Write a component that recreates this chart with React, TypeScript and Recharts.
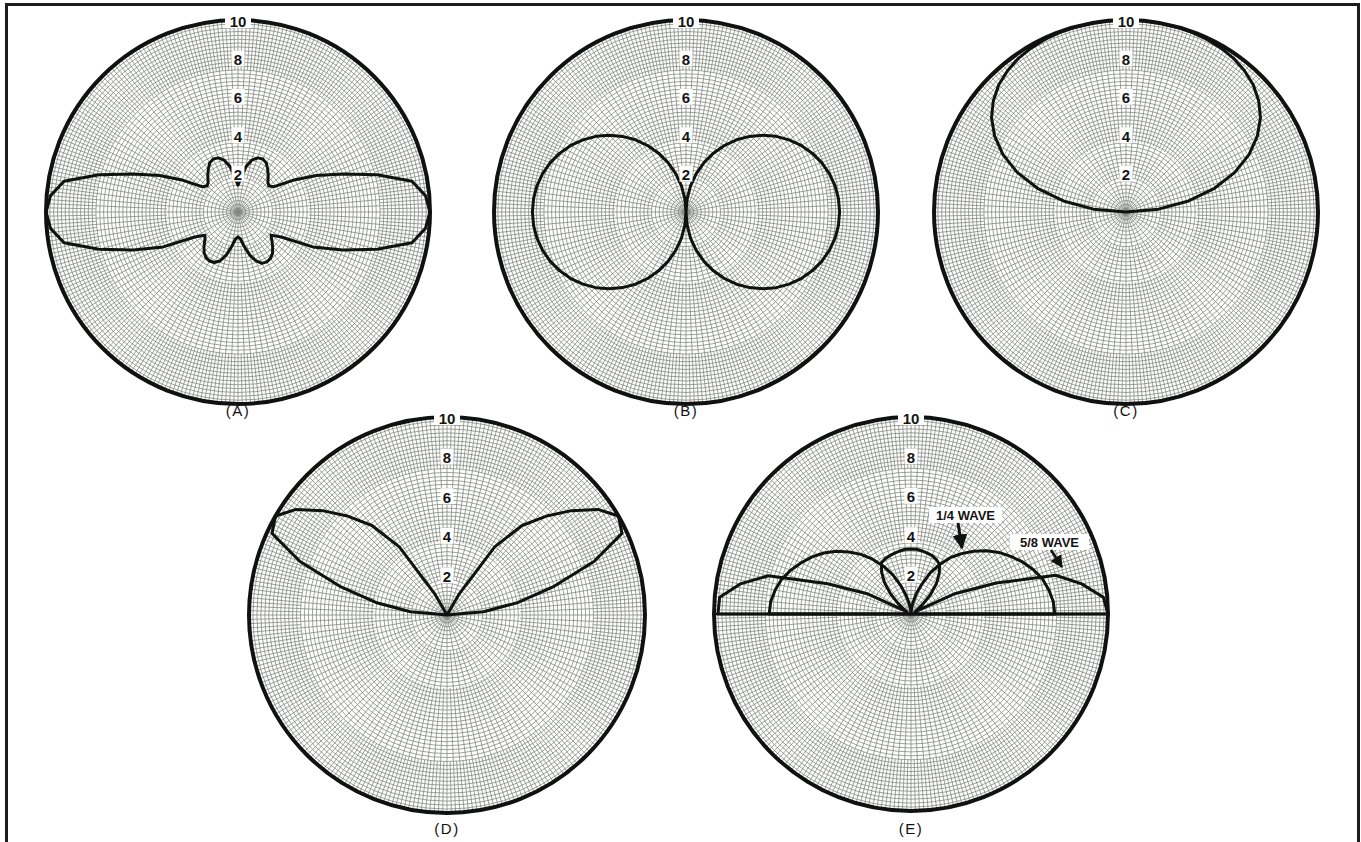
import React from 'react';
import { RadarChart, Radar, PolarGrid, PolarAngleAxis, PolarRadiusAxis } from 'recharts';

// ---------- data ----------
const ANGLES = [
  0, 5, 10, 15, 20, 25, 30, 35, 40, 45, 50, 55, 60, 65, 70, 75, 80, 85,
  90, 95, 100, 105, 110, 115, 120, 125, 130, 135, 140, 145, 150, 155, 160, 165, 170, 175,
  180, 185, 190, 195, 200, 205, 210, 215, 220, 225, 230, 235, 240, 245, 250, 255, 260, 265,
  270, 275, 280, 285, 290, 295, 300, 305, 310, 315, 320, 325, 330, 335, 340, 345, 350, 355,
];

// (A) broadside array: two main lobes + four minor lobes
const PATTERN_A = [
  1.4, 1.8, 2.4, 2.8, 3.0, 3.05, 2.95, 2.7, 2.45, 2.2, 2.1, 2.3, 3.3, 4.5, 5.8, 7.5, 9.2, 9.8,
  10.0, 9.8, 9.2, 7.5, 5.8, 4.3, 2.6, 2.1, 2.3, 2.55, 2.8, 2.95, 3.0, 2.95, 2.7, 2.3, 1.8, 1.4,
  1.3, 1.4, 1.8, 2.3, 2.7, 2.9, 2.95, 2.9, 2.75, 2.5, 2.25, 2.1, 2.6, 4.3, 5.8, 7.5, 9.2, 9.8,
  10.0, 9.8, 9.2, 7.5, 5.8, 4.5, 3.3, 2.3, 2.1, 2.2, 2.45, 2.7, 2.95, 3.05, 3.0, 2.8, 2.4, 1.8,
];

// (B) figure-eight dipole
const PATTERN_B = [
  0, 0.7, 1.39, 2.07, 2.74, 3.38, 4.0, 4.59, 5.14, 5.66, 6.13, 6.55, 6.93, 7.25, 7.52, 7.73, 7.88, 7.97,
  8.0, 7.97, 7.88, 7.73, 7.52, 7.25, 6.93, 6.55, 6.13, 5.66, 5.14, 4.59, 4.0, 3.38, 2.74, 2.07, 1.39, 0.7,
  0, 0.7, 1.39, 2.07, 2.74, 3.38, 4.0, 4.59, 5.14, 5.66, 6.13, 6.55, 6.93, 7.25, 7.52, 7.73, 7.88, 7.97,
  8.0, 7.97, 7.88, 7.73, 7.52, 7.25, 6.93, 6.55, 6.13, 5.66, 5.14, 4.59, 4.0, 3.38, 2.74, 2.07, 1.39, 0.7,
];

// (C) unidirectional
const PATTERN_C = [
  10.0, 10.0, 9.99, 9.99, 9.97, 9.93, 9.87, 9.77, 9.6, 9.37, 9.02, 8.55, 7.9, 7.07, 6.03, 4.77, 3.31, 1.7,
  0, 0, 0, 0, 0, 0, 0, 0, 0, 0, 0, 0, 0, 0, 0, 0, 0, 0,
  0, 0, 0, 0, 0, 0, 0, 0, 0, 0, 0, 0, 0, 0, 0, 0, 0, 0,
  0, 1.7, 3.31, 4.77, 6.03, 7.07, 7.9, 8.55, 9.02, 9.37, 9.6, 9.77, 9.87, 9.93, 9.97, 9.99, 9.99, 10.0,
];

// (D) elevated twin lobes
const PATTERN_D = [
  0, 0, 0, 0, 0, 0, 1.2, 4.2, 5.9, 7.05, 8.2, 9.3, 10.0, 9.75, 7.9, 5.6, 3.65, 1.85,
  0, 0, 0, 0, 0, 0, 0, 0, 0, 0, 0, 0, 0, 0, 0, 0, 0, 0,
  0, 0, 0, 0, 0, 0, 0, 0, 0, 0, 0, 0, 0, 0, 0, 0, 0, 0,
  0, 1.85, 3.65, 5.6, 7.9, 9.75, 10.0, 9.3, 8.2, 7.05, 5.9, 4.2, 1.2, 0, 0, 0, 0, 0,
];

// (E) vertical radiators over ground
const PATTERN_E_QUARTER = [
  0, 0.3, 0.6, 1.1, 1.6, 2.3, 2.9, 3.5, 4.0, 4.5, 5.0, 5.45, 5.85, 6.25, 6.6, 6.9, 7.1, 7.25,
  7.3, 0, 0, 0, 0, 0, 0, 0, 0, 0, 0, 0, 0, 0, 0, 0, 0, 0,
  0, 0, 0, 0, 0, 0, 0, 0, 0, 0, 0, 0, 0, 0, 0, 0, 0, 0,
  7.2, 7.15, 7.0, 6.8, 6.5, 6.15, 5.8, 5.4, 4.95, 4.45, 3.95, 3.4, 2.8, 2.2, 1.55, 1.0, 0.55, 0.25,
];
const PATTERN_E_FIVE_EIGHTHS = [
  3.3, 3.3, 3.25, 3.2, 3.15, 3.05, 2.9, 2.5, 2.0, 1.4, 0.8, 0.4, 0.25, 2.4, 4.6, 7.6, 8.8, 9.8,
  10.0, 0, 0, 0, 0, 0, 0, 0, 0, 0, 0, 0, 0, 0, 0, 0, 0, 0,
  0, 0, 0, 0, 0, 0, 0, 0, 0, 0, 0, 0, 0, 0, 0, 0, 0, 0,
  9.8, 9.75, 8.8, 7.5, 4.5, 2.4, 0.25, 0.5, 0.9, 1.5, 2.1, 2.6, 3.0, 3.1, 3.15, 3.2, 3.25, 3.3,
];

const GROUND_ANGLES = [90, 270];
const RADIUS_LABELS = [2, 4, 6, 8, 10];
const OUTER_RING = [10];
const PLOT_LABELS = ['(A)', '(B)', '(C)', '(D)', '(E)'];
const WAVE_LABELS = ['1/4 WAVE', '5/8 WAVE'];

// grid of the polar paper: circles every 0.2, radial density doubling outward
const GRID_RADII = Array.from({ length: 49 }, (_, i) => Math.round((i + 1) * 2) / 10);
const GRID_ZONES = [
  { from: 0, to: 1.8, step: 10 },
  { from: 1.8, to: 3.7, step: 5 },
  { from: 3.7, to: 7.4, step: 2.5 },
  { from: 7.4, to: 10, step: 1.25 },
];
const zoneAngles = (step: number) => Array.from({ length: Math.round(360 / step) }, (_, i) => i * step);

const rows = (series: Record<string, number[]>) =>
  ANGLES.map((a, i) => {
    const o: Record<string, number> = { angle: a };
    Object.keys(series).forEach((k) => (o[k] = series[k][i]));
    return o;
  });

const DATA_A = rows({ r: PATTERN_A });
const DATA_B = rows({ r: PATTERN_B });
const DATA_C = rows({ r: PATTERN_C });
const DATA_D = rows({ r: PATTERN_D });
const DATA_E = rows({ q: PATTERN_E_QUARTER, f: PATTERN_E_FIVE_EIGHTHS });

// ---------- layout ----------
const PAD = 22;
const PLOTS = [
  { cx: 238, cy: 212, R: 192, data: DATA_A, keys: ['r'], label: PLOT_LABELS[0], ground: false },
  { cx: 686, cy: 212, R: 192, data: DATA_B, keys: ['r'], label: PLOT_LABELS[1], ground: false },
  { cx: 1126, cy: 212, R: 192, data: DATA_C, keys: ['r'], label: PLOT_LABELS[2], ground: false },
  { cx: 447, cy: 615, R: 198, data: DATA_D, keys: ['r'], label: PLOT_LABELS[3], ground: false },
  { cx: 911, cy: 614, R: 197, data: DATA_E, keys: ['q', 'f'], label: PLOT_LABELS[4], ground: true },
];

const GRID_COLOR = '#7f847b';
const FONT = '"Liberation Sans", Arial, sans-serif';

const AngleAxis = ({ ticks }: { ticks?: number[] }) => (
  <PolarAngleAxis
    dataKey="angle"
    type="number"
    domain={[0, 360]}
    allowDataOverflow
    ticks={ticks ?? [0, 90, 180, 270]}
    tick={false}
    axisLine={false}
    tickLine={false}
  />
);

const RadiusAxis = ({ ticks, tick }: { ticks?: number[]; tick?: any }) => (
  <PolarRadiusAxis
    domain={[0, 10]}
    type="number"
    allowDataOverflow
    ticks={(ticks ?? [0, 2, 4, 6, 8, 10]) as any}
    tick={tick ?? false}
    axisLine={false}
    tickLine={false}
    angle={90}
  />
);

const RadiusLabel = (props: any) => {
  const { x, y, payload } = props;
  const txt = String(payload.value);
  const w = txt.length > 1 ? 26 : 13;
  return (
    <g>
      <rect x={x - w / 2} y={y - 8} width={w} height={16} fill="#ffffff" />
      <text
        x={x}
        y={y + 1}
        textAnchor="middle"
        dominantBaseline="central"
        fontFamily={FONT}
        fontWeight="bold"
        fontSize={15}
        fill="#141414"
      >
        {txt}
      </text>
    </g>
  );
};

function Layer(props: {
  size: number;
  inner?: number;
  outer: number;
  data: any[];
  children: React.ReactNode;
}) {
  const c = props.size / 2;
  return (
    <div style={{ position: 'absolute', left: 0, top: 0 }}>
      <RadarChart
        width={props.size}
        height={props.size}
        data={props.data}
        cx={c}
        cy={c}
        innerRadius={props.inner ?? 0}
        outerRadius={props.outer}
        startAngle={90}
        endAngle={-270}
        margin={{ top: 0, right: 0, bottom: 0, left: 0 }}
      >
        {props.children}
      </RadarChart>
    </div>
  );
}

function PolarPlot(p: (typeof PLOTS)[number]) {
  const size = 2 * (p.R + PAD);
  const px = p.R / 10;
  return (
    <div style={{ position: 'absolute', left: p.cx - size / 2, top: p.cy - size / 2, width: size, height: size }}>
      {/* concentric circles */}
      <Layer size={size} outer={p.R} data={p.data}>
        <AngleAxis />
        <RadiusAxis ticks={GRID_RADII} />
        <PolarGrid gridType="circle" radialLines={false} stroke={GRID_COLOR} strokeWidth={0.75} />
      </Layer>
      {/* radial lines by zone */}
      {GRID_ZONES.map((z, i) => (
        <Layer key={i} size={size} inner={z.from * px} outer={z.to * px} data={p.data}>
          <AngleAxis ticks={zoneAngles(z.step)} />
          <RadiusAxis />
          <PolarGrid gridType="circle" polarRadius={[]} stroke={GRID_COLOR} strokeWidth={0.75} />
        </Layer>
      ))}
      {/* pattern */}
      <Layer size={size} outer={p.R} data={p.data}>
        <AngleAxis />
        <RadiusAxis />
        {p.keys.map((k) => (
          <Radar
            key={k}
            dataKey={k}
            stroke="#111111"
            strokeWidth={3}
            strokeLinejoin="round"
            fill="none"
            fillOpacity={0}
            dot={false}
            isAnimationActive={false}
          />
        ))}
      </Layer>
      {/* outer ring */}
      <Layer size={size} outer={p.R} data={p.data}>
        <AngleAxis />
        <RadiusAxis ticks={OUTER_RING} />
        <PolarGrid gridType="circle" radialLines={false} stroke="#111111" strokeWidth={4} />
      </Layer>
      {p.ground && (
        <Layer size={size} outer={p.R} data={p.data}>
          <AngleAxis ticks={GROUND_ANGLES} />
          <RadiusAxis />
          <PolarGrid gridType="circle" polarRadius={[]} stroke="#111111" strokeWidth={2.6} />
        </Layer>
      )}
      {/* radius labels */}
      <Layer size={size} outer={p.R} data={p.data}>
        <AngleAxis />
        <RadiusAxis ticks={RADIUS_LABELS} tick={RadiusLabel} />
      </Layer>
    </div>
  );
}

const labelStyle = (x: number, y: number): React.CSSProperties => ({
  position: 'absolute',
  left: x - 30,
  top: y - 9,
  width: 60,
  textAlign: 'center',
  fontFamily: FONT,
  fontSize: 15,
  letterSpacing: 1.5,
  color: '#111111',
  lineHeight: '18px',
});

export default function App() {
  return (
    <div
      style={{
        position: 'absolute',
        left: 0,
        top: 0,
        width: 1361,
        height: 842,
        background: '#ffffff',
        overflow: 'hidden',
      }}
    >
      <div
        style={{
          position: 'absolute',
          left: 5,
          top: 3,
          width: 1349,
          height: 837,
          borderTop: '3px solid #1c1c1c',
          borderLeft: '3px solid #1c1c1c',
          borderRight: '3px solid #1c1c1c',
          borderBottom: '1px solid #9a9a9a',
        }}
      />
      {PLOTS.map((p, i) => (
        <PolarPlot key={i} {...p} />
      ))}
      {PLOTS.map((p, i) => (
        <div key={'l' + i} style={labelStyle(p.cx, i < 3 ? 411 : 829)}>
          {p.label}
        </div>
      ))}
      {/* annotations on (E) */}
      <svg width={1361} height={842} style={{ position: 'absolute', left: 0, top: 0 }}>
        <defs>
          <marker id="ah" viewBox="0 0 10 10" refX="9" refY="5" markerWidth="5" markerHeight="6" orient="auto">
            <path d="M0,0 L10,5 L0,10 z" fill="#111" />
          </marker>
        </defs>
        <rect x={929} y={507} width={73} height={16} fill="#ffffff" />
        <text x={965.5} y={515.5} textAnchor="middle" dominantBaseline="central" fontFamily={FONT} fontWeight="bold" fontSize={13} fill="#141414">
          {WAVE_LABELS[0]}
        </text>
        <line x1={958} y1={523} x2={962} y2={548} stroke="#111" strokeWidth={3} markerEnd="url(#ah)" />
        <rect x={1010} y={534} width={79} height={16} fill="#ffffff" />
        <text x={1049.5} y={542.5} textAnchor="middle" dominantBaseline="central" fontFamily={FONT} fontWeight="bold" fontSize={13} fill="#141414">
          {WAVE_LABELS[1]}
        </text>
        <line x1={1051} y1={550} x2={1062} y2={567} stroke="#111" strokeWidth={2.5} markerEnd="url(#ah)" />
      </svg>
    </div>
  );
}
